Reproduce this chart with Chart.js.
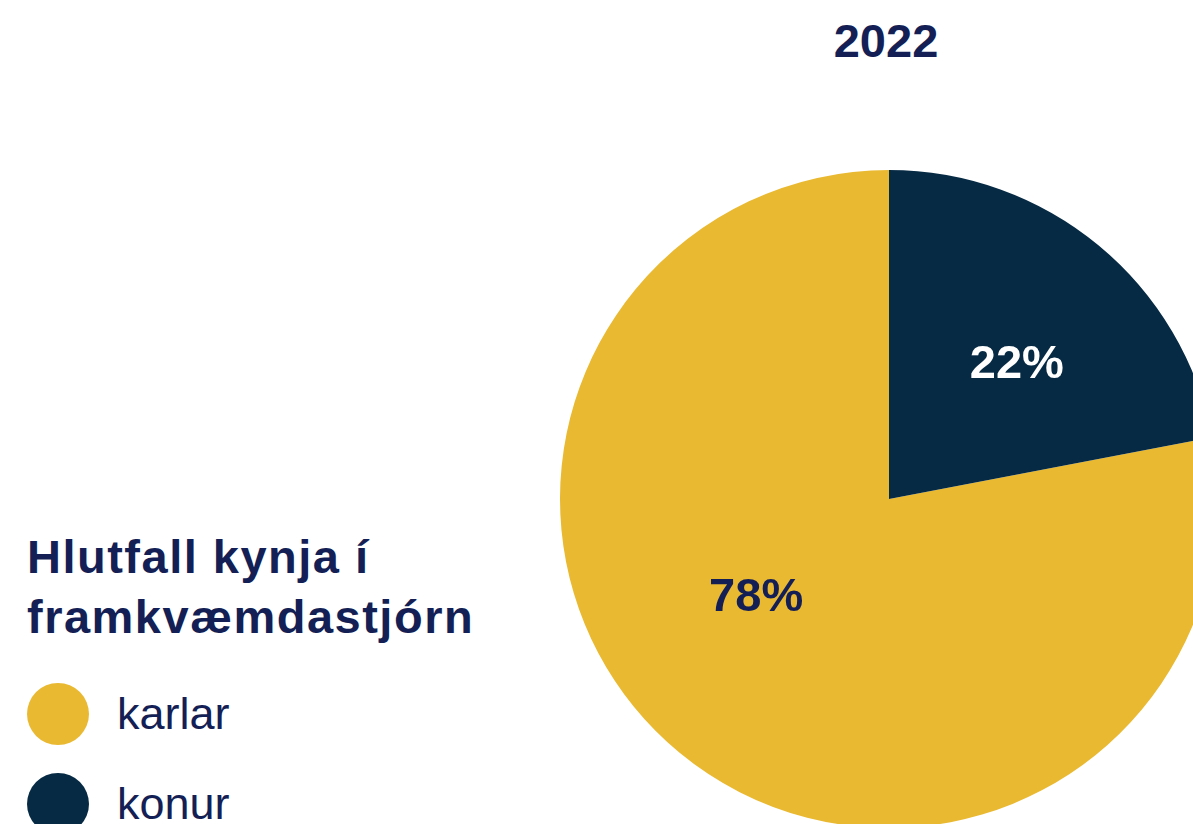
<!DOCTYPE html>
<html lang="is">
<head>
<meta charset="utf-8">
<title>Hlutfall kynja í framkvæmdastjórn 2022</title>
<script src="https://cdn.jsdelivr.net/npm/chart.js@4.4.1/dist/chart.umd.min.js"></script>
<style>
  html, body {
    margin: 0;
    padding: 0;
    width: 1193px;
    height: 824px;
    overflow: hidden;
    background: #ffffff;
    font-family: "Liberation Sans", Arial, sans-serif;
    color: #141f55;
  }
  .year {
    position: absolute;
    left: 786px;
    top: 17px;
    width: 200px;
    text-align: center;
    font-size: 47px;
    line-height: 47px;
    font-weight: bold;
  }
  .heading {
    position: absolute;
    left: 27px;
    top: 527px;
    font-size: 47px;
    line-height: 60px;
    font-weight: bold;
    letter-spacing: 1.5px;
  }
  .legend {
    position: absolute;
    left: 27px;
    top: 683px;
  }
  .legend-item {
    display: flex;
    align-items: center;
    height: 62px;
    margin-bottom: 28px;
    font-size: 45px;
  }
  .legend-dot {
    width: 62px;
    height: 62px;
    border-radius: 50%;
    margin-right: 28px;
  }
  .chart-box {
    position: absolute;
    left: 560px;
    top: 170px;
    width: 658px;
    height: 658px;
  }
</style>
</head>
<body>
<div class="year" id="year"></div>
<div class="heading">Hlutfall kynja í<br>framkvæmdastjórn</div>
<div class="legend" id="legend"></div>
<div class="chart-box"><canvas id="pie"></canvas></div>

<script>
const year = "2022";
const categories = ["karlar", "konur"];
const shares = [78, 22];
const sliceColors = ["#eab932", "#062a43"];
const labelColors = ["#141f55", "#ffffff"];

document.getElementById("year").textContent = year;

// legend in the left column
const legendEl = document.getElementById("legend");
categories.forEach((name, i) => {
  const row = document.createElement("div");
  row.className = "legend-item";
  const dot = document.createElement("span");
  dot.className = "legend-dot";
  dot.style.background = sliceColors[i];
  const txt = document.createElement("span");
  txt.textContent = name;
  row.appendChild(dot);
  row.appendChild(txt);
  legendEl.appendChild(row);
});

// percent text inside each slice
const sliceLabels = {
  id: "sliceLabels",
  afterDatasetsDraw(chart, args, opts) {
    const ctx = chart.ctx;
    const meta = chart.getDatasetMeta(0);
    ctx.save();
    ctx.font = "bold 47px 'Liberation Sans', Arial, sans-serif";
    ctx.textAlign = "center";
    ctx.textBaseline = "alphabetic";
    meta.data.forEach((arc, i) => {
      const p = arc.tooltipPosition();
      const nudge = opts.nudge[i] || [0, 0];
      ctx.fillStyle = labelColors[i];
      ctx.fillText(shares[i] + "%", p.x + nudge[0], p.y + nudge[1] + 16);
    });
    ctx.restore();
  }
};

new Chart(document.getElementById("pie"), {
  type: "pie",
  data: {
    labels: categories,
    datasets: [
      {
        data: shares,
        backgroundColor: sliceColors,
        borderWidth: 0,
      },
    ],
  },
  options: {
    responsive: true,
    maintainAspectRatio: false,
    animation: false,
    // karlar begins where the konur slice ends
    rotation: (shares[1] / 100) * 360,
    layout: { padding: 0 },
    plugins: {
      legend: { display: false },
      tooltip: { enabled: false },
      sliceLabels: { nudge: [[-28, -31], [23, -10]] },
    },
  },
  plugins: [sliceLabels],
});
</script>
</body>
</html>
